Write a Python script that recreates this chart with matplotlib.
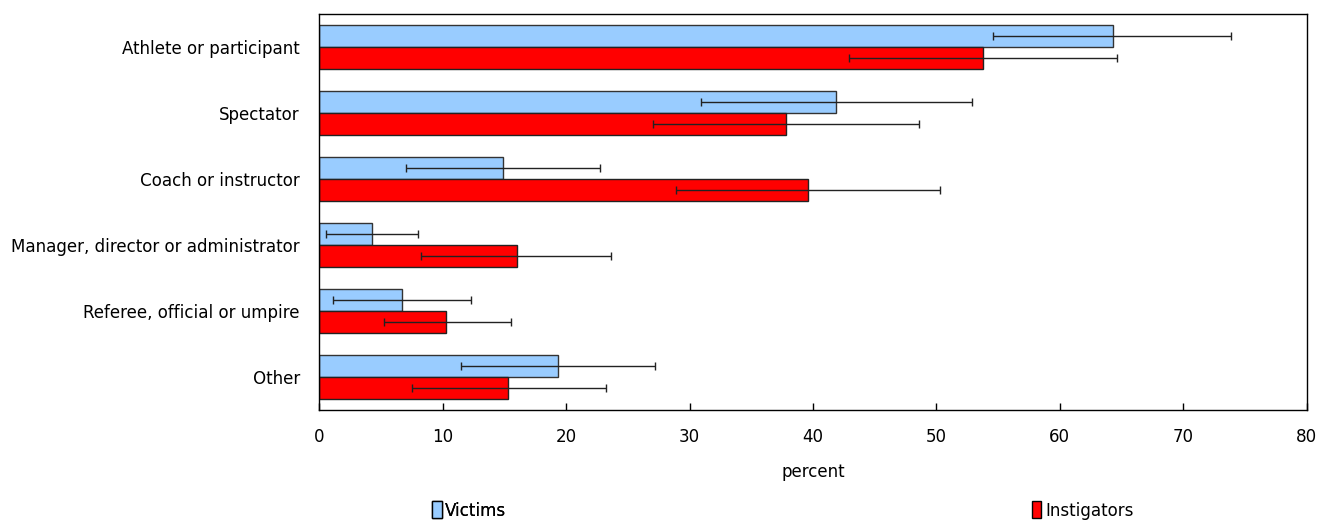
import matplotlib
matplotlib.use("Agg")
import matplotlib.pyplot as plt
import numpy as np
from matplotlib.patches import Patch

plt.rcParams['font.family'] = ['DejaVu Sans']
plt.rcParams['font.stretch'] = 'condensed'

categories = ["Athlete or participant", "Spectator", "Coach or instructor",
              "Manager, director or administrator", "Referee, official or umpire", "Other"]
victims = [64.3, 41.9, 14.9, 4.3, 6.7, 19.3]
victims_low = [54.6, 30.9, 7.0, 0.5, 1.1, 11.5]
victims_high = [73.9, 52.9, 22.7, 8.0, 12.3, 27.2]
instigators = [53.8, 37.8, 39.6, 16.0, 10.3, 15.3]
instigators_low = [42.9, 27.0, 28.9, 8.2, 5.2, 7.5]
instigators_high = [64.6, 48.6, 50.3, 23.6, 15.5, 23.2]
xticks = [0, 10, 20, 30, 40, 50, 60, 70, 80]

victim_color = "#99CCFF"
instig_color = "#FF0000"
fs = 13.3

fig = plt.figure(figsize=(13.18, 5.22), dpi=100)
ax = fig.add_axes([0.2423, 0.2146, 0.9914 - 0.2423, 0.9732 - 0.2146])

y = np.arange(len(categories))
h = 0.337
v = np.array(victims)
ins = np.array(instigators)
v_err = [v - np.array(victims_low), np.array(victims_high) - v]
i_err = [ins - np.array(instigators_low), np.array(instigators_high) - ins]

ax.barh(y - h / 2, v, height=h, color=victim_color, edgecolor="#333333", linewidth=1.0)
ax.barh(y + h / 2, ins, height=h, color=instig_color, edgecolor="#222222", linewidth=1.0)
ax.errorbar(v, y - h / 2, xerr=v_err, fmt="none", ecolor="#222222",
            elinewidth=1.0, capsize=3, capthick=1.0)
ax.errorbar(ins, y + h / 2, xerr=i_err, fmt="none", ecolor="#222222",
            elinewidth=1.0, capsize=3, capthick=1.0)

ax.set_xlim(0, 80)
ax.set_ylim(len(categories) - 0.5, -0.5)
ax.set_yticks(y)
ax.set_yticklabels(categories, fontsize=fs)
ax.tick_params(axis="y", length=0, pad=14)
ax.set_xticks(xticks)
ax.set_xticklabels([str(t) for t in xticks], fontsize=fs)
ax.tick_params(axis="x", direction="in", length=5, width=1, pad=13)
for s in ax.spines.values():
    s.set_linewidth(1.0)
    s.set_color("black")
ax.set_xlabel("percent", fontsize=fs, labelpad=12)

leg_kw = dict(frameon=False, fontsize=fs, handlelength=0.5, handleheight=1.0,
              handletextpad=0.2, borderpad=0, borderaxespad=0, loc="center left")
leg1 = fig.legend(handles=[Patch(facecolor=victim_color, edgecolor="black", label="Victims")],
                  bbox_to_anchor=(0.328, 0.022), **leg_kw)
fig.add_artist(leg1)
fig.legend(handles=[Patch(facecolor=instig_color, edgecolor="black", label="Instigators")],
           bbox_to_anchor=(0.783, 0.022), **leg_kw)

fig.savefig("out.png", dpi=100)
